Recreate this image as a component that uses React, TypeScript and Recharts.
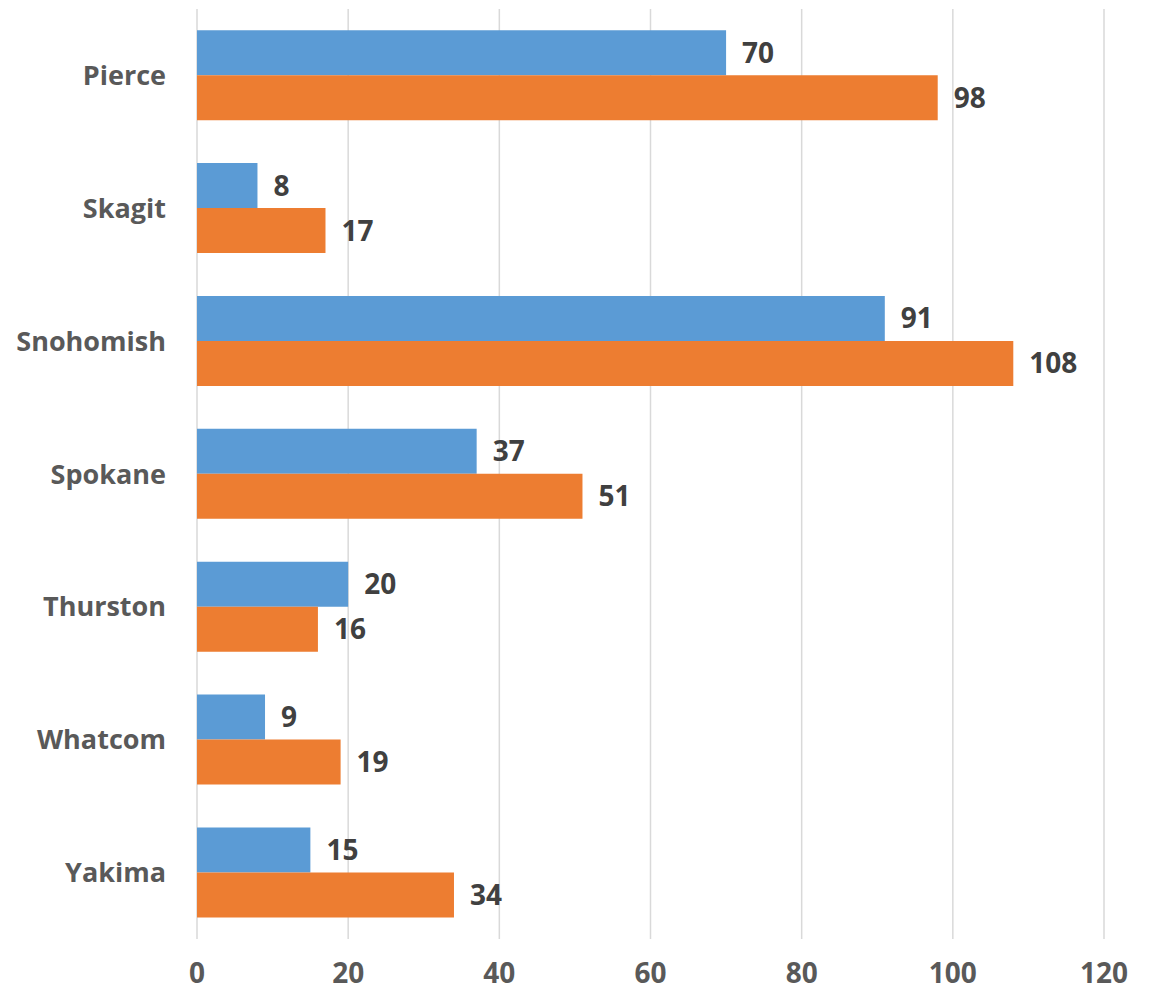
import React from "react";
import { BarChart, Bar, XAxis, YAxis, CartesianGrid, LabelList } from "recharts";

const counties = ["Pierce", "Skagit", "Snohomish", "Spokane", "Thurston", "Whatcom", "Yakima"];
const seriesA = [70, 8, 91, 37, 20, 9, 15];
const seriesB = [98, 17, 108, 51, 16, 19, 34];
const xTicks = [0, 20, 40, 60, 80, 100, 120];

const data = counties.map((c, i) => ({ name: c, a: seriesA[i], b: seriesB[i] }));

const FONT = "'Open Sans', sans-serif";

export default function App() {
  return (
    <div style={{ width: 1149, height: 985 }}>
      <BarChart
        width={1149}
        height={985}
        data={data}
        layout="vertical"
        margin={{ top: 1, right: 53, bottom: 0, left: 0 }}
        barCategoryGap="16%"
        barGap={0}
      >
        <CartesianGrid horizontal={false} vertical={true} stroke="#d9d9d9" strokeWidth={1.5} />
        <XAxis
          type="number"
          domain={[0, 120]}
          ticks={xTicks}
          axisLine={false}
          tickLine={false}
          tickSize={0}
          tickMargin={24}
          height={54}
          tick={{ fill: "#595959", fontSize: 28, fontWeight: 700, fontFamily: FONT }}
        />
        <YAxis
          type="category"
          dataKey="name"
          width={189}
          axisLine={false}
          tickLine={false}
          tickSize={0}
          tickMargin={31}
          tick={{ fill: "#595959", fontSize: 27, fontWeight: 700, fontFamily: FONT }}
        />
        <Bar dataKey="a" fill="#5B9BD5" isAnimationActive={false}>
          <LabelList
            dataKey="a"
            position="right"
            offset={16}
            style={{ fill: "#404040", fontSize: 28, fontWeight: 700, fontFamily: FONT }}
          />
        </Bar>
        <Bar dataKey="b" fill="#ED7D31" isAnimationActive={false}>
          <LabelList
            dataKey="b"
            position="right"
            offset={16}
            style={{ fill: "#404040", fontSize: 28, fontWeight: 700, fontFamily: FONT }}
          />
        </Bar>
      </BarChart>
    </div>
  );
}
